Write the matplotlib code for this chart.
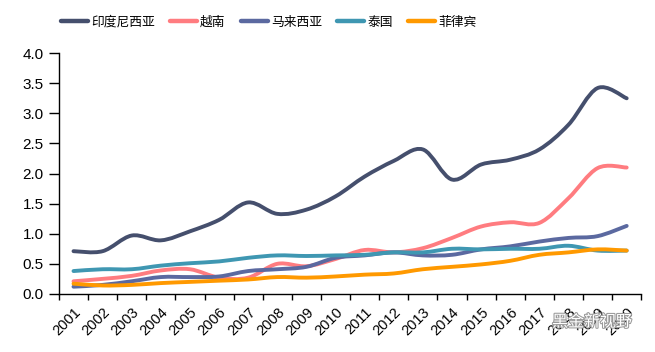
import matplotlib.pyplot as plt
import matplotlib.patheffects as pe
from matplotlib.path import Path
from matplotlib.patches import PathPatch
from matplotlib.lines import Line2D

plt.rcParams['font.family'] = ['Liberation Sans', 'Noto Sans CJK SC']

years = ['2001', '2002', '2003', '2004', '2005', '2006', '2007', '2008', '2009', '2010',
         '2011', '2012', '2013', '2014', '2015', '2016', '2017', '2018', '2019', '2020']

indonesia = [0.71, 0.71, 0.97, 0.89, 1.04, 1.23, 1.52, 1.33, 1.40, 1.62,
             1.95, 2.21, 2.40, 1.90, 2.15, 2.23, 2.40, 2.81, 3.42, 3.25]
vietnam = [0.21, 0.25, 0.30, 0.39, 0.41, 0.27, 0.27, 0.50, 0.46, 0.58,
           0.73, 0.69, 0.76, 0.93, 1.12, 1.19, 1.18, 1.59, 2.09, 2.10]
malaysia = [0.12, 0.15, 0.21, 0.28, 0.28, 0.29, 0.38, 0.41, 0.45, 0.60,
            0.64, 0.69, 0.64, 0.65, 0.74, 0.79, 0.87, 0.93, 0.96, 1.13]
thailand = [0.38, 0.41, 0.41, 0.47, 0.51, 0.54, 0.60, 0.64, 0.63, 0.64,
            0.65, 0.69, 0.69, 0.75, 0.74, 0.75, 0.75, 0.80, 0.72, 0.72]
philippines = [0.17, 0.14, 0.15, 0.18, 0.20, 0.22, 0.24, 0.28, 0.27, 0.29,
               0.32, 0.34, 0.41, 0.45, 0.49, 0.55, 0.65, 0.69, 0.74, 0.72]

names = ['印度尼西亚', '越南', '马来西亚', '泰国', '菲律宾']
colors = ['#454f6d', '#ff7c80', '#5b69a0', '#3f97b2', '#ff9900']
series = [indonesia, vietnam, malaysia, thailand, philippines]


def smooth_path(ys):
    # excel-like smoothed line: catmull-rom turned into bezier segments
    pts = [(i, v) for i, v in enumerate(ys)]
    verts = [pts[0]]
    codes = [Path.MOVETO]
    n = len(pts)
    for i in range(n - 1):
        p0 = pts[max(i - 1, 0)]
        p1 = pts[i]
        p2 = pts[i + 1]
        p3 = pts[min(i + 2, n - 1)]
        c1 = (p1[0] + (p2[0] - p0[0]) / 6, p1[1] + (p2[1] - p0[1]) / 6)
        c2 = (p2[0] - (p3[0] - p1[0]) / 6, p2[1] - (p3[1] - p1[1]) / 6)
        verts += [c1, c2, p2]
        codes += [Path.CURVE4] * 3
    return Path(verts, codes)


fig = plt.figure(figsize=(6.55, 3.52), dpi=100)
ax = fig.add_axes([0.090, 0.165, 0.889, 0.684])

handles = []
for ys, c, name in zip(series, colors, names):
    patch = PathPatch(smooth_path(ys), facecolor='none', edgecolor=c,
                      lw=2.8, capstyle='round', joinstyle='round')
    ax.add_patch(patch)
    handles.append(Line2D([], [], color=c, lw=3.2, solid_capstyle='round'))

ax.set_xlim(-0.5, len(years) - 0.5)
ax.set_ylim(0, 4.0)
ax.set_yticks([0, 0.5, 1.0, 1.5, 2.0, 2.5, 3.0, 3.5, 4.0])
ax.set_yticklabels(['0.0', '0.5', '1.0', '1.5', '2.0', '2.5', '3.0', '3.5', '4.0'])

ax.set_xticks(range(len(years)))
ax.set_xticklabels(years, rotation=45, ha='right', rotation_mode='anchor')
ax.set_xticks([i - 0.5 for i in range(len(years) + 1)], minor=True)
ax.tick_params(axis='x', which='major', length=0, pad=8, labelsize=10.5)
ax.tick_params(axis='x', which='minor', length=4, width=1, direction='out')
ax.tick_params(axis='y', length=7, width=1, labelsize=11, pad=4)

for s in ['top', 'right']:
    ax.spines[s].set_visible(False)
for s in ['left', 'bottom']:
    ax.spines[s].set_linewidth(1)

fig.legend(handles, names, loc='center', bbox_to_anchor=(0.41, 0.936), ncol=5,
           frameon=False, fontsize=9.2, handlelength=2.1, handletextpad=0.25,
           columnspacing=1.2)

# watermark
fig.text(0.965, 0.085, '黑金新视野', fontsize=11.5, color='white',
         ha='right', va='center',
         path_effects=[pe.withStroke(linewidth=1.5, foreground='#999999')])

fig.savefig('out.png', dpi=100)
